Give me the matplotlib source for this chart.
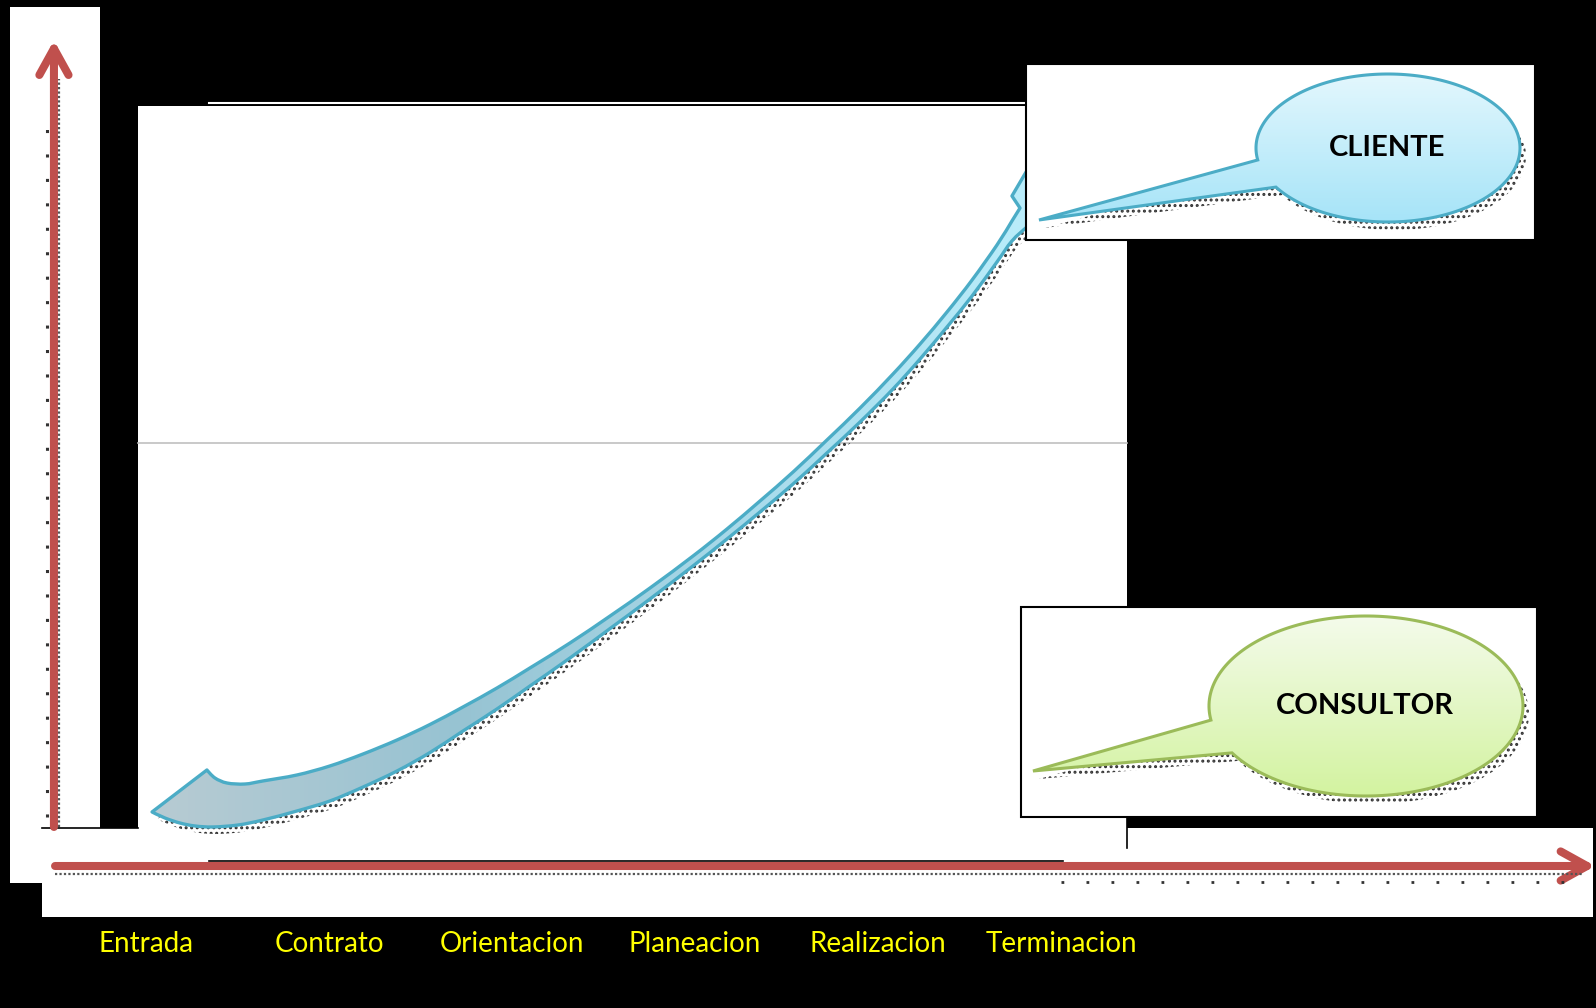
import numpy as np
import matplotlib.pyplot as plt
from matplotlib.patches import Rectangle, PathPatch, FancyArrowPatch, ArrowStyle
from matplotlib.path import Path
from matplotlib.colors import LinearSegmentedColormap
from matplotlib import transforms

# etapas del proceso (eje x) y actores
stages = ['Entrada', 'Contrato', 'Orientacion', 'Planeacion', 'Realizacion', 'Terminacion']
roles = ['CLIENTE', 'CONSULTOR']

# contorno de la flecha curva, en unidades de etapa (x) y nivel (y)
arrow_stage = [0.033, 0.333, 0.377, 0.443, 0.541, 0.639, 0.825, 1.005, 1.186, 1.372,
               1.552, 1.732, 1.918, 2.098, 2.317, 2.536, 2.754, 2.989, 3.175, 3.355,
               3.536, 3.721, 3.902, 4.082, 4.230, 4.377, 4.514, 4.650, 4.732, 4.776,
               4.732, 4.896, 5.093, 4.913, 4.820, 4.732, 4.650, 4.514, 4.377, 4.230,
               4.082, 3.902, 3.721, 3.536, 3.355, 3.175, 2.989, 2.754, 2.536, 2.317,
               2.098, 1.918, 1.732, 1.552, 1.372, 1.186, 1.005, 0.825, 0.639, 0.503,
               0.366, 0.268, 0.186, 0.104]
arrow_level = [0.659, 1.171, 1.073, 1.012, 1.000, 1.037, 1.110, 1.220, 1.366, 1.537,
               1.726, 1.939, 2.171, 2.415, 2.720, 3.049, 3.390, 3.780, 4.110, 4.451,
               4.805, 5.195, 5.585, 6.000, 6.366, 6.756, 7.146, 7.573, 7.866, 8.024,
               8.171, 8.793, 8.122, 7.976, 7.805, 7.622, 7.366, 6.951, 6.573, 6.183,
               5.817, 5.415, 5.037, 4.659, 4.317, 3.988, 3.659, 3.256, 2.896, 2.537,
               2.195, 1.915, 1.646, 1.384, 1.159, 0.963, 0.793, 0.671, 0.561, 0.500,
               0.476, 0.488, 0.524, 0.585]
# vertices con esquina (puntas y aletas de la flecha)
arrow_corners = [0, 1, 29, 30, 31, 32, 33]

W, H = 1596, 1008
RED = '#c0504d'
BLUE_EDGE = '#4bacc6'
GREEN_EDGE = '#9bbb59'
plt.rcParams['hatch.linewidth'] = 1.4

fig = plt.figure(figsize=(W / 100, H / 100), dpi=100, facecolor='black')


def pixel_axes(z):
    a = fig.add_axes([0, 0, 1, 1], zorder=z)
    a.set_xlim(0, W)
    a.set_ylim(H, 0)
    a.axis('off')
    a.patch.set_alpha(0)
    return a


def smooth_closed_path(pts, corners):
    # contorno cerrado con curvas de Bezier (Catmull-Rom) salvo en las esquinas
    n = len(pts)
    tang = np.zeros_like(pts)
    for k in range(n):
        if k not in corners:
            tang[k] = (pts[(k + 1) % n] - pts[k - 1]) / 2
    verts = [pts[0]]
    codes = [Path.MOVETO]
    for i in range(n):
        j = (i + 1) % n
        if i in corners and j in corners:
            verts.append(pts[j])
            codes.append(Path.LINETO)
        else:
            verts += [pts[i] + tang[i] / 3, pts[j] - tang[j] / 3, pts[j]]
            codes += [Path.CURVE4] * 3
    verts.append(pts[0])
    codes.append(Path.CLOSEPOLY)
    return Path(np.array(verts), codes)


# fondo: paneles blancos
bg = pixel_axes(0)
for x0, y0, w, h in [(10, 7, 90, 876), (138, 106, 989, 722), (42, 828, 1551, 89)]:
    bg.add_patch(Rectangle((x0, y0), w, h, facecolor='white', edgecolor='none'))
bg.plot([209, 1026], [102.5, 102.5], color='white', lw=1.5)
bg.plot([138, 1127], [443, 443], color='#c0c0c0', lw=1.2)
bg.plot([209, 1063], [861, 861], color='black', lw=1.2)
bg.plot([42, 138], [828, 828], color='black', lw=1.2)
bg.plot([1127, 1127], [817, 848], color='black', lw=1.2)

# ejes de datos: etapa / nivel
ax = fig.add_axes([0, 0, 1, 1], zorder=1)
ax.axis('off')
ax.patch.set_alpha(0)
xlim = (-146 / 183, (W - 146) / 183)
ylim = ((866 - H) / 82, 866 / 82)

# flechas rojas de los ejes
ax.plot([-0.475, -0.475], [0.48, 9.6], color='#555', lw=1.6, ls=(0, (1, 1)))
ax.plot([-0.54, -0.54], [0.6, 9.0], color='#333', lw=2.2, ls=(0, (1, 7)))
ax.plot([-0.5, 7.85], [-0.1, -0.1], color='#555', lw=1.6, ls=(0, (1, 1)))
ax.plot([5.0, 7.85], [-0.2, -0.2], color='#333', lw=2.0, ls=(0, (1, 8)))
for start, end in [((-0.503, 0.476), (-0.503, 10.07)), ((-0.497, 0.0), (7.92, 0.0))]:
    arr = FancyArrowPatch(start, end, arrowstyle=ArrowStyle('->', head_length=19, head_width=10.5),
                          mutation_scale=1, lw=5.8, color=RED, shrinkA=0, shrinkB=0,
                          capstyle='round', joinstyle='round')
    ax.add_patch(arr)

# flecha curva con sombra punteada
outline = smooth_closed_path(np.column_stack([arrow_stage, arrow_level]), arrow_corners)
shadow_tr = transforms.offset_copy(ax.transData, fig=fig, x=5, y=-7, units='dots')
ax.add_patch(PathPatch(outline, facecolor='none', edgecolor='#333', hatch='...',
                       lw=0, transform=shadow_tr, zorder=2))
body = PathPatch(outline, facecolor='none', edgecolor=BLUE_EDGE, lw=2.4, zorder=4,
                 joinstyle='round')
ax.add_patch(body)
arrow_cmap = LinearSegmentedColormap.from_list('arr', ['#b8cbd2', '#97c3d2', '#a9dcec', '#bdf0fd'])
grad = np.linspace(0, 1, 256).reshape(1, -1)
im = ax.imshow(grad, cmap=arrow_cmap, extent=(0, 5.1, 0.4, 8.8), aspect='auto',
               interpolation='bilinear', zorder=3)
im.set_clip_path(body)
ax.set_xlim(*xlim)
ax.set_ylim(*ylim)

# etiquetas de etapas
for i, name in enumerate(stages):
    ax.text(i, -0.95, name, color='#ffff00', fontsize=20, family=['Lato', 'DejaVu Sans'],
            ha='center', va='center')

# globos de dialogo
fg = pixel_axes(2)


def callout(box, center, radii, t1, t2, tip, colors, edge, label):
    bx, by, bw, bh = box
    fg.add_patch(Rectangle((bx, by), bw, bh, facecolor='white', edgecolor='black', lw=1.5))
    cx, cy = center
    a, b = radii
    t = np.radians(np.linspace(t1, t2 + 360, 200))
    verts = [tip] + list(zip(cx + a * np.cos(t), cy + b * np.sin(t))) + [tip]
    path = Path(verts, closed=True)
    shadow = path.transformed(transforms.Affine2D().translate(6, 8))
    fg.add_patch(PathPatch(shadow, facecolor='none', edgecolor='#333', hatch='...', lw=0))
    shape = PathPatch(path, facecolor='none', edgecolor=edge, lw=2.2, zorder=3)
    fg.add_patch(shape)
    cmap = LinearSegmentedColormap.from_list('c', colors)
    g = np.linspace(0, 1, 256).reshape(-1, 1)
    img = fg.imshow(g, cmap=cmap, extent=(tip[0], cx + a, cy + b, cy - b), aspect='auto',
                    interpolation='bilinear', zorder=2)
    img.set_clip_path(shape)
    fg.text(cx - 1, cy, label, fontsize=21, fontweight='bold', color='black',
            family=['Lato', 'DejaVu Sans'], ha='center', va='center', zorder=4)


callout((1026, 64, 509, 176), (1388, 148), (132, 74), 170.7, 148.1, (1039, 220),
        ['#e3f7fd', '#a6e4f8'], BLUE_EDGE, roles[0])
callout((1021, 607, 516, 210), (1366, 706), (157, 90), 171.0, 148.6, (1033, 771),
        ['#f4fbeb', '#d3f3a0'], GREEN_EDGE, roles[1])

fg.set_xlim(0, W)
fg.set_ylim(H, 0)

fig.savefig('out.png', dpi=100, facecolor='black')
